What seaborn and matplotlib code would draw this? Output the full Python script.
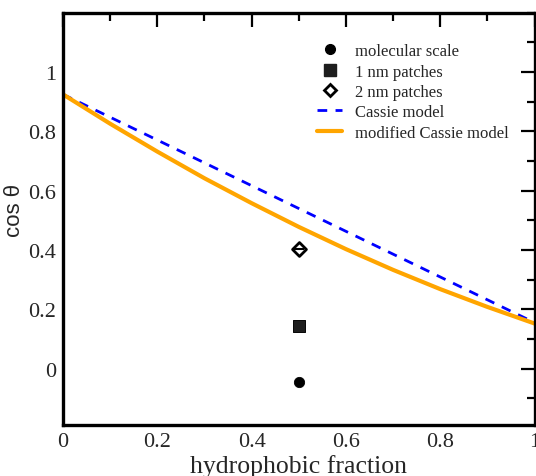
import numpy as np
import pandas as pd
import seaborn as sns
import matplotlib.pyplot as plt
from matplotlib.lines import Line2D
from matplotlib.ticker import MultipleLocator

sns.set_style("white")
plt.rcParams['font.family'] = ['Liberation Serif', 'DejaVu Serif']
plt.rcParams['mathtext.fontset'] = 'stix'

# valores
frac_cassie = [0.0, 1.0]
cos_cassie = [0.925, 0.155]

frac_mod = [0.0, 0.1, 0.2, 0.3, 0.4, 0.5, 0.6, 0.7, 0.8, 0.9, 1.0]
cos_mod = [0.925, 0.826, 0.732, 0.642, 0.558, 0.478, 0.403, 0.333, 0.268, 0.208, 0.152]

pontos_nome = ['molecular scale', '1 nm patches', '2 nm patches']
pontos_x = [0.5, 0.5, 0.5]
pontos_y = [-0.045, 0.145, 0.405]

fig = plt.figure(figsize=(5.36, 4.77), dpi=100)
ax = fig.add_axes([0.1175, 0.107, 0.880, 0.864])

sns.lineplot(x=frac_cassie, y=cos_cassie, ax=ax, color='#0000ff', lw=2,
             dashes=False, linestyle=(0, (3.5, 3.0)))
sns.lineplot(x=frac_mod, y=cos_mod, ax=ax, color='#ffa500', lw=3)

estilos = [dict(marker='o', s=55, color='black', edgecolor='black'),
           dict(marker='s', s=70, color='#1e1e1e', edgecolor='black'),
           dict(marker='D', s=50, color='white', edgecolor='black', linewidth=2)]
for i in range(3):
    sns.scatterplot(x=[pontos_x[i]], y=[pontos_y[i]], ax=ax, zorder=5, **estilos[i])
ax.plot([pontos_x[2]], [pontos_y[2]], marker='_', ms=7, mew=1.5, color='black', zorder=6)

ax.set_xlim(0, 1)
ax.set_ylim(-0.19, 1.2)
ax.xaxis.set_minor_locator(MultipleLocator(0.1))
ax.yaxis.set_minor_locator(MultipleLocator(0.1))
ax.set_yticks([0, 0.2, 0.4, 0.6, 0.8, 1.0])
ax.set_yticklabels(['0', '0.2', '0.4', '0.6', '0.8', '1'])
ax.set_xticks([0, 0.2, 0.4, 0.6, 0.8, 1.0])
ax.set_xticklabels(['0', '0.2', '0.4', '0.6', '0.8', '1'])
ax.tick_params(which='both', direction='in', top=True, right=True, width=1.6,
               labelsize=16, color='black', pad=5)
ax.tick_params(which='major', length=10)
ax.tick_params(which='minor', length=6)
for s in ax.spines.values():
    s.set_linewidth(2.4)
    s.set_color('black')

ax.set_xlabel('hydrophobic fraction', fontsize=18.5, labelpad=2)
ax.set_ylabel('cos θ', fontsize=16, family=['Liberation Sans', 'DejaVu Sans'])
ax.yaxis.set_label_coords(-0.08, 0.524)

handles = [
    Line2D([], [], ls='none', marker='o', ms=7, color='black'),
    Line2D([], [], ls='none', marker='s', ms=8, color='#1e1e1e'),
    Line2D([], [], ls='none', marker='D', ms=6.5, mfc='white', mec='black', mew=2),
    Line2D([], [], color='#0000ff', lw=2, linestyle=(0, (3.5, 3.0))),
    Line2D([], [], color='#ffa500', lw=3),
]
labels = pontos_nome + ['Cassie model', 'modified Cassie model']
ax.legend(handles, labels, loc='upper left', bbox_to_anchor=(0.539, 0.926),
          frameon=False, fontsize=12, handlelength=1.5, handletextpad=0.75,
          labelspacing=0.26, borderaxespad=0, borderpad=0)

fig.savefig('out.png', dpi=100)
